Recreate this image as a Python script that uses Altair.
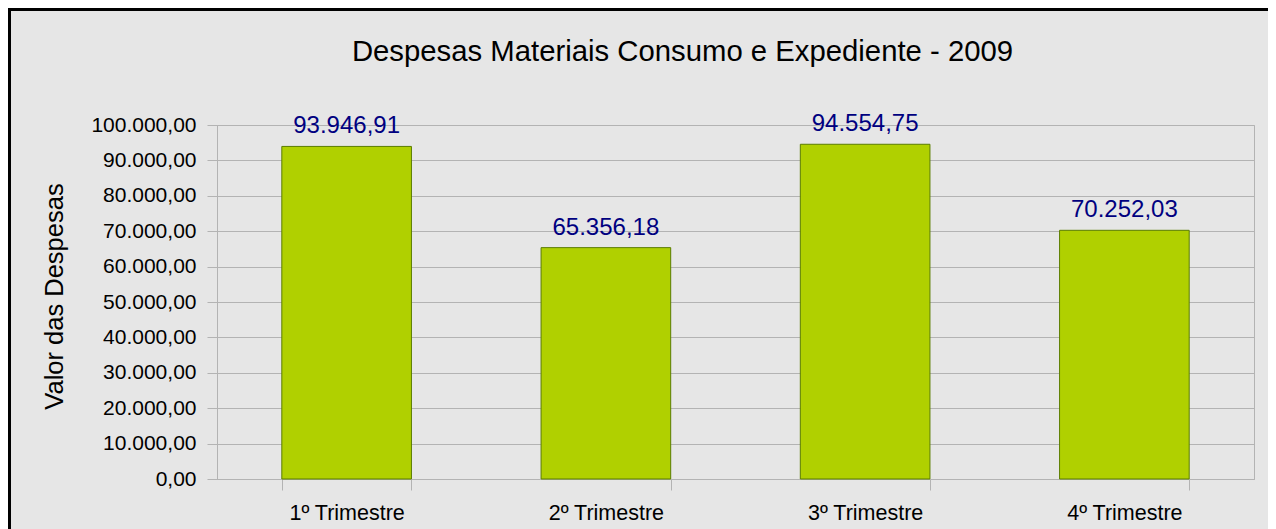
import altair as alt
import pandas as pd

trimestres = ["1º Trimestre", "2º Trimestre", "3º Trimestre", "4º Trimestre"]
valores = [93946.91, 65356.18, 94554.75, 70252.03]
y_ticks = [0, 10000, 20000, 30000, 40000, 50000, 60000, 70000, 80000, 90000, 100000]

df = pd.DataFrame({"trimestre": trimestres, "valor": valores})

FONT = "Liberation Sans"
GRID = "#b3b3b3"

x_enc = alt.X(
    "trimestre:N",
    sort=trimestres,
    scale=alt.Scale(paddingInner=0.5, paddingOuter=0.25),
    axis=alt.Axis(
        title=None,
        labelAngle=0,
        labelFont=FONT,
        labelFontSize=21.5,
        labelColor="#000000",
        labelPadding=12,
        tickBand="extent",
        tickSize=11,
        tickColor=GRID,
        domainColor=GRID,
        grid=False,
    ),
)
y_enc = alt.Y(
    "valor:Q",
    scale=alt.Scale(domain=[0, 100000], nice=False, zero=True),
    axis=alt.Axis(
        title="Valor das Despesas",
        titleFont=FONT,
        titleFontSize=25.5,
        titleFontWeight="normal",
        titleColor="#000000",
        titlePadding=23,
        titleY=171,
        values=y_ticks,
        tickCount=11,
        labelOverlap=False,
        format=",.2f",
        labelFont=FONT,
        labelFontSize=21,
        labelColor="#000000",
        labelPadding=11,
        tickSize=10,
        tickColor=GRID,
        domainColor=GRID,
        gridColor=GRID,
        grid=True,
    ),
)

frame = alt.Chart(alt.Data(values=[{}])).mark_rect(
    fill=None, stroke="#000000", strokeWidth=4
).encode(
    x=alt.value(-208), x2=alt.value(1300), y=alt.value(-116), y2=alt.value(600)
)

bars = alt.Chart(df).mark_bar(
    color="#b0d000", stroke="#5b7d00", strokeWidth=1
).encode(x=x_enc, y=y_enc)

labels = alt.Chart(df).mark_text(
    font=FONT, fontSize=24, color="#000080", baseline="alphabetic", dy=-13
).encode(
    x=x_enc,
    y=y_enc,
    text=alt.Text("valor:Q", format=",.2f"),
)

chart = alt.layer(frame, bars, labels).properties(
    width=1037,
    height=354,
    autosize=alt.AutoSizeParams(type="none"),
    padding={"left": 209, "top": 117, "right": 14, "bottom": 50},
    title=alt.TitleParams(
        "Despesas Materiais Consumo e Expediente - 2009",
        font=FONT,
        fontSize=29.3,
        fontWeight="normal",
        color="#000000",
        anchor="middle",
        frame="group",
        baseline="alphabetic",
        offset=0,
        dx=-53,
        dy=83,
    ),
).configure(
    background="#e6e6e6",
    locale={"number": {"decimal": ",", "thousands": ".", "grouping": [3], "currency": ["R$", ""]}},
).configure_view(stroke=GRID)

chart.save("out.html", embed_options={"renderer": "svg", "actions": False})
